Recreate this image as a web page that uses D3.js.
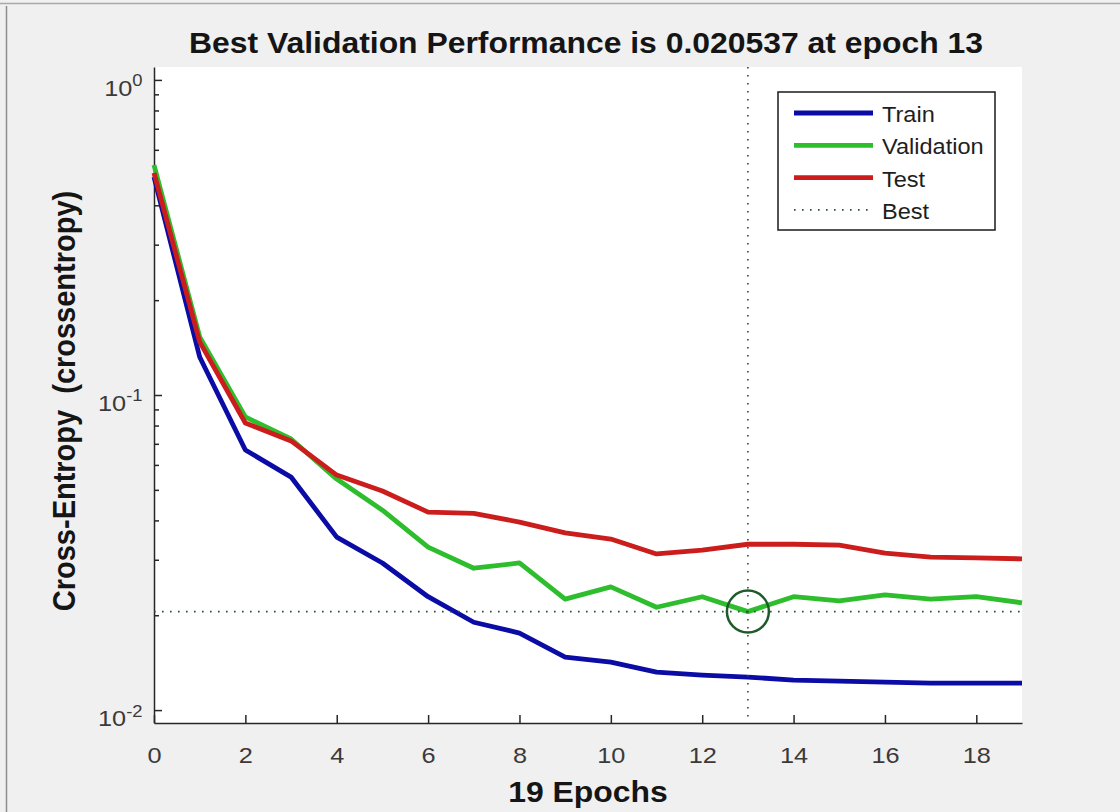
<!DOCTYPE html>
<html>
<head>
<meta charset="utf-8">
<title>Best Validation Performance</title>
<style>
  body { margin: 0; background: #f0f0f0; }
  svg  { display: block; font-family: "Liberation Sans", Arial, sans-serif; }
</style>
</head>
<body>
<script src="https://cdn.jsdelivr.net/npm/d3@7/dist/d3.min.js"></script>
<script>

// values
var epochs     = [0, 1, 2, 3, 4, 5, 6, 7, 8, 9, 10, 11, 12, 13, 14, 15, 16, 17, 18, 19];
var train      = [0.492, 0.132, 0.0669, 0.0549, 0.0354, 0.0293, 0.0229, 0.0190, 0.01756, 0.01473,
                  0.01420, 0.01320, 0.01292, 0.01273, 0.01245, 0.01236, 0.01227, 0.01218, 0.01218, 0.01218];
var validation = [0.537, 0.1528, 0.0852, 0.0725, 0.0541, 0.0431, 0.0329, 0.0282, 0.0293, 0.0225,
                  0.0246, 0.0212, 0.0229, 0.020537, 0.0229, 0.0222, 0.0232, 0.0225, 0.0229, 0.0219];
var test       = [0.507, 0.1474, 0.0815, 0.0715, 0.0557, 0.0496, 0.0425, 0.0421, 0.0395, 0.0365,
                  0.0349, 0.0313, 0.0322, 0.0336, 0.0336, 0.0334, 0.0315, 0.0306, 0.0304, 0.0302];
var bestEpoch  = 13;
var bestValue  = 0.020537;

var xTicks      = [0, 2, 4, 6, 8, 10, 12, 14, 16, 18];
var yMajorTicks = [0.01, 0.1, 1];
var yExponents  = ["-2", "-1", "0"];
var yMinorTicks = [0.02, 0.03, 0.04, 0.05, 0.06, 0.07, 0.08, 0.09,
                   0.2, 0.3, 0.4, 0.5, 0.6, 0.7, 0.8, 0.9];
var legendNames = ["Train", "Validation", "Test", "Best"];

var titleText  = "Best Validation Performance is 0.020537 at epoch 13";
var xLabelText = "19 Epochs";
var yLabelText = "Cross-Entropy  (crossentropy)";

// look
var colors = ["#0b0ba6", "#2dbd2d", "#cc1d1d", "#2a4a3a"];
var width = 1120, height = 812;
var plot = {left: 154, right: 1022, top: 67, bottom: 723};
var sx = 1.1;   // text in the picture is a little wide

var svg = d3.select("body").append("svg")
	.attr("width", width)
	.attr("height", height);

svg.append("rect")
	.attr("width", width)
	.attr("height", height)
	.attr("fill", "#f0f0f0");

// window edges
svg.append("line")
	.attr("x1", 0).attr("x2", width).attr("y1", 3.5).attr("y2", 3.5)
	.attr("stroke", "#a8a8a8").attr("stroke-width", 1.5);
svg.append("line")
	.attr("x1", 6.5).attr("x2", 6.5).attr("y1", 6).attr("y2", height)
	.attr("stroke", "#8c8c8c").attr("stroke-width", 1.5);

// scales
var x = d3.scaleLinear().domain([0, 19]).range([plot.left, plot.right]);
var y = d3.scaleLog().domain([0.0091, 1.099]).range([plot.bottom, plot.top]);

// white plot area
svg.append("rect")
	.attr("x", plot.left)
	.attr("y", plot.top)
	.attr("width", plot.right - plot.left)
	.attr("height", plot.bottom - plot.top)
	.attr("fill", "#ffffff");

// X axis
var xAxis = d3.axisBottom(x)
	.tickValues(xTicks)
	.tickSize(-8)
	.tickSizeOuter(0)
	.tickPadding(24);

var gx = svg.append("g")
	.attr("transform", "translate(0," + plot.bottom + ")")
	.call(xAxis);

// Y axis, minor ticks then major ticks
var gyMinor = svg.append("g")
	.attr("transform", "translate(" + plot.left + ",0)")
	.call(d3.axisLeft(y).tickValues(yMinorTicks).tickSize(-5).tickSizeOuter(0).tickFormat(""));
gyMinor.select(".domain").remove();

var gy = svg.append("g")
	.attr("transform", "translate(" + plot.left + ",0)")
	.call(d3.axisLeft(y).tickValues(yMajorTicks).tickSize(-8).tickSizeOuter(0).tickPadding(10).tickFormat(""));

// 10 with a superscript exponent
gy.selectAll(".tick text").each(function(d, i) {
	var t = d3.select(this).attr("dy", "0.72em");
	t.append("tspan").text("10");
	t.append("tspan").attr("dy", "-0.62em").style("font-size", "16px").text(yExponents[i]);
});

svg.selectAll(".domain, .tick line")
	.attr("stroke", "#262626")
	.attr("stroke-width", 1.5);

svg.selectAll(".tick text")
	.attr("fill", "#3a3a3a")
	.style("font-size", "22px")
	.style("font-family", "'Liberation Sans', Arial, sans-serif")
	.attr("transform", "scale(1.15,1)");

// curves
var line = d3.line()
	.x(function(d, i) { return x(epochs[i]); })
	.y(function(d) { return y(d); });

[train, validation, test].forEach(function(series, k) {
	svg.append("path")
		.datum(series)
		.attr("d", line)
		.attr("fill", "none")
		.attr("stroke", colors[k])
		.attr("stroke-width", 4.8)
		.attr("stroke-linejoin", "round");
});

// best epoch marks
svg.append("line")
	.attr("x1", x(bestEpoch)).attr("x2", x(bestEpoch))
	.attr("y1", plot.top).attr("y2", plot.bottom)
	.attr("stroke", colors[3]).attr("stroke-width", 1.6)
	.attr("stroke-dasharray", "1.6,6.4");

svg.append("line")
	.attr("x1", plot.left).attr("x2", plot.right)
	.attr("y1", y(bestValue)).attr("y2", y(bestValue))
	.attr("stroke", colors[3]).attr("stroke-width", 1.6)
	.attr("stroke-dasharray", "1.6,6.4");

svg.append("circle")
	.attr("cx", x(bestEpoch))
	.attr("cy", y(bestValue))
	.attr("r", 21)
	.attr("fill", "none")
	.attr("stroke", "#1f5a2c")
	.attr("stroke-width", 2.5);

// legend
var legend = svg.append("g").attr("transform", "translate(778,92)");
legend.append("rect")
	.attr("width", 217)
	.attr("height", 138)
	.attr("fill", "#ffffff")
	.attr("stroke", "#1a1a1a")
	.attr("stroke-width", 1.5);

legendNames.forEach(function(name, i) {
	var cy = 21 + i * 32.3;
	legend.append("line")
		.attr("x1", 16).attr("x2", 95)
		.attr("y1", cy).attr("y2", cy)
		.attr("stroke", colors[i])
		.attr("stroke-width", i < 3 ? 4.8 : 1.6)
		.attr("stroke-dasharray", i < 3 ? null : "1.6,6.4");
	legend.append("text")
		.attr("transform", "translate(104," + (cy + 9) + ") scale(1.07,1)")
		.attr("fill", "#1e1e1e")
		.style("font-size", "22px")
		.text(name);
});

// title and axis labels
svg.append("text")
	.attr("transform", "translate(586,53) scale(" + sx + ",1)")
	.attr("text-anchor", "middle")
	.attr("fill", "#151515")
	.style("font-size", "29px")
	.style("font-weight", "bold")
	.text(titleText);

svg.append("text")
	.attr("transform", "translate(588,802) scale(" + sx + ",1)")
	.attr("text-anchor", "middle")
	.attr("fill", "#151515")
	.style("font-size", "29px")
	.style("font-weight", "bold")
	.text(xLabelText);

svg.append("text")
	.attr("transform", "translate(75,401) scale(1.05,1) rotate(-90)")
	.attr("text-anchor", "middle")
	.attr("fill", "#151515")
	.style("font-size", "29px")
	.style("font-weight", "bold")
	.style("white-space", "pre")
	.text(yLabelText);

</script>
</body>
</html>
